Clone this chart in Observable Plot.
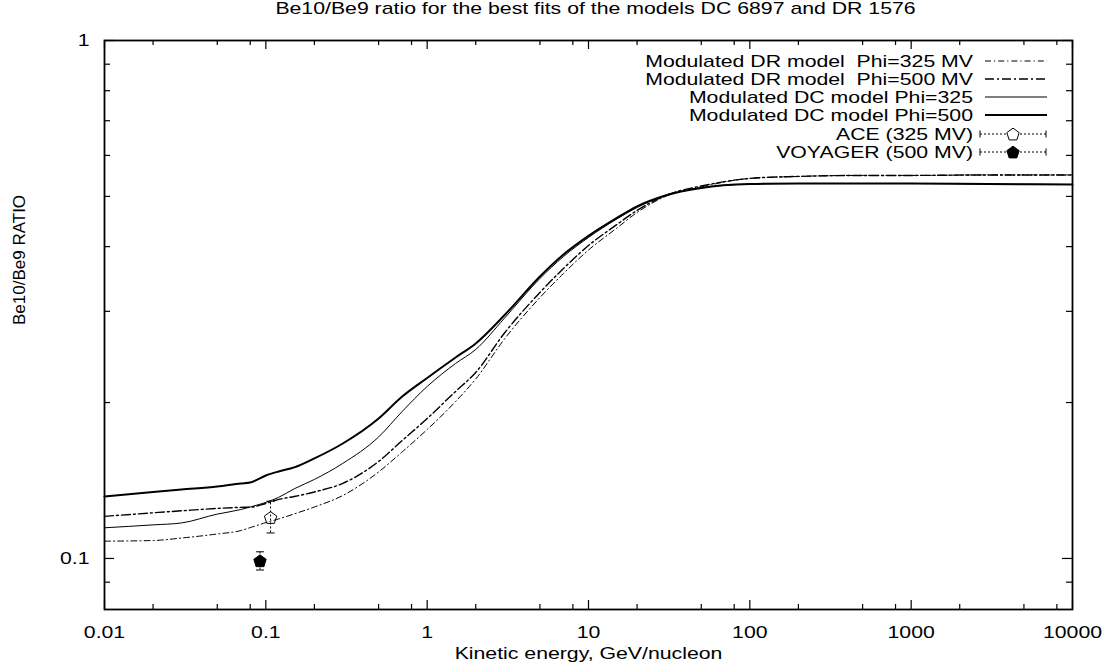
<!DOCTYPE html>
<html><head><meta charset="utf-8">
<script src="https://cdn.jsdelivr.net/npm/d3@7"></script>
<script src="https://cdn.jsdelivr.net/npm/@observablehq/plot@0.6"></script>
<style>body{margin:0;background:#fff} svg{display:block}</style>
</head><body><div id="chart"></div>
<script>
// ---------- data ----------
const energy = [0.01,0.02,0.03,0.05,0.07,0.08,0.1,0.12,0.15,0.2,0.3,0.5,0.7,1,1.5,2,3,5,7,10,15,20,30,50,100,200,500,1000,3000,10000];
const drPhi325 = [0.1080,0.1083,0.1095,0.1115,0.1132,0.1147,0.1173,0.1192,0.1219,0.1257,0.1323,0.1469,0.1606,0.1774,0.2009,0.2221,0.2648,0.3190,0.3550,0.3940,0.4345,0.4656,0.5000,0.5215,0.5417,0.5465,0.5489,0.5489,0.5501,0.5501];
const drPhi500 = [0.1206,0.1225,0.1236,0.1249,0.1255,0.1256,0.1277,0.1300,0.1317,0.1344,0.1396,0.1539,0.1689,0.1863,0.2101,0.2286,0.2719,0.3263,0.3630,0.4019,0.4413,0.4697,0.5022,0.5236,0.5417,0.5465,0.5489,0.5489,0.5501,0.5501];
const dcPhi325 = [0.1146,0.1161,0.1171,0.1218,0.1243,0.1257,0.1283,0.1312,0.1363,0.1421,0.1526,0.1716,0.1922,0.2148,0.2379,0.2532,0.2905,0.3472,0.3828,0.4166,0.4524,0.4760,0.5022,0.5193,0.5281,0.5296,0.5296,0.5296,0.5284,0.5272];
const dcPhi500 = [0.1317,0.1344,0.1359,0.1377,0.1396,0.1402,0.1446,0.1472,0.1499,0.1560,0.1667,0.1863,0.2054,0.2231,0.2443,0.2601,0.2944,0.3503,0.3862,0.4195,0.4544,0.4784,0.5022,0.5193,0.5281,0.5296,0.5296,0.5296,0.5284,0.5272];

const seriesNames = ["Modulated DR model  Phi=325 MV","Modulated DR model  Phi=500 MV","Modulated DC model Phi=325","Modulated DC model Phi=500"];
const pointNames = ["ACE (325 MV)","VOYAGER (500 MV)"];
const pointEnergy = [0.107, 0.092];
const pointRatio  = [0.120, 0.099];
const pointLow    = [0.112, 0.095];
const pointHigh   = [0.129, 0.103];

const xMajor = [0.01,0.1,1,10,100,1000,10000];
const xTickLabels = ["0.01","0.1","1","10","100","1000","10000"];
const xMinorMultipliers = [2,5,8];
const yMajor = [0.1,1];
const yTickLabels = ["0.1","1"];
const yMinor = [0.09,0.2,0.3,0.4,0.5,0.6,0.7,0.8,0.9];

const titleText = "Be10/Be9 ratio for the best fits of the models DC 6897 and DR 1576";
const xTitle = "Kinetic energy, GeV/nucleon";
const yTitle = "Be10/Be9 RATIO";

// ---------- styles ----------
const styles = [
  {dash:"6,3,1.2,3", width:1.0},
  {dash:"9,3,2,3", width:1.4},
  {dash:null, width:1.0},
  {dash:null, width:2.0}
];
const seriesValues = [drPhi325, drPhi500, dcPhi325, dcPhi500];
const rows = seriesValues.map((vals,s) => energy.map((e,i)=>({s, e, r: vals[i]})));
const points = pointNames.map((n,i)=>({n, e:pointEnergy[i], r:pointRatio[i], lo:pointLow[i], hi:pointHigh[i], filled: i===1}));
const xMinor = xMajor.slice(0,-1).flatMap(d => xMinorMultipliers.map(m => d*m));

const W=1106, H=671, mL=104, mR=34, mT=40, mB=62;
const innerW = W-mL-mR, innerH = H-mT-mB;

function pentagonPath(ctx, R){
  for(let k=0;k<5;k++){
    const a = -Math.PI/2 + k*2*Math.PI/5;
    const px = R*Math.cos(a), py = R*Math.sin(a)+R*0.1;
    if(k===0) ctx.moveTo(px,py); else ctx.lineTo(px,py);
  }
  ctx.closePath();
}
const pentagon = {draw(ctx,size){ pentagonPath(ctx, Math.sqrt(size/Math.PI)); }};
const hcap = {draw(ctx,size){ const r=Math.sqrt(size/Math.PI); ctx.moveTo(-r,0); ctx.lineTo(r,0); }};

const lineMarks = rows.map((data,s)=>Plot.line(data,{x:"e", y:"r", curve:"monotone-x", stroke:"black", strokeWidth:styles[s].width, strokeDasharray:styles[s].dash}));

const svg = Plot.plot({
  width: W, height: H,
  marginLeft: mL, marginRight: mR, marginTop: mT, marginBottom: mB,
  x: {type:"log", domain:[0.01,10000], axis:null},
  y: {type:"log", domain:[0.0797,1], axis:null},
  style: {fontFamily:"'Liberation Sans', Arial, Helvetica, sans-serif", fontSize:"17px", background:"white", color:"black", overflow:"visible"},
  marks: [
    ...lineMarks,
    Plot.ruleX(points,{x:"e", y1:"lo", y2:"hi", stroke:"black", strokeWidth:1, strokeDasharray:"2,2"}),
    Plot.dot(points,{x:"e", y:"lo", symbol:hcap, r:4, stroke:"black", strokeWidth:1}),
    Plot.dot(points,{x:"e", y:"hi", symbol:hcap, r:4, stroke:"black", strokeWidth:1}),
    Plot.dot(points,{x:"e", y:"r", symbol:pentagon, r:6.5, stroke:"black", strokeWidth:1, fill:d=>d.filled?"black":"none"}),
    // ticks, inward, on all four sides
    Plot.ruleX(xMajor,{x:d=>d, insetTop:innerH-9, stroke:"black", strokeWidth:1.2}),
    Plot.ruleX(xMajor,{x:d=>d, insetBottom:innerH-9, stroke:"black", strokeWidth:1.2}),
    Plot.ruleX(xMinor,{x:d=>d, insetTop:innerH-5, stroke:"black", strokeWidth:1.2}),
    Plot.ruleX(xMinor,{x:d=>d, insetBottom:innerH-5, stroke:"black", strokeWidth:1.2}),
    Plot.ruleY(yMajor,{y:d=>d, insetRight:innerW-10, stroke:"black", strokeWidth:1.2}),
    Plot.ruleY(yMajor,{y:d=>d, insetLeft:innerW-10, stroke:"black", strokeWidth:1.2}),
    Plot.ruleY(yMinor,{y:d=>d, insetRight:innerW-6, stroke:"black", strokeWidth:1.2}),
    Plot.ruleY(yMinor,{y:d=>d, insetLeft:innerW-6, stroke:"black", strokeWidth:1.2}),
    Plot.frame({stroke:"black", strokeWidth:1.8}),
    Plot.axisX({ticks:xMajor, tickSize:0, tickPadding:16, label:null, tickFormat:d=>xTickLabels[xMajor.indexOf(d)]}),
    Plot.axisY({ticks:yMajor, tickSize:0, tickPadding:15, label:null, tickFormat:d=>yTickLabels[yMajor.indexOf(d)]}),
    Plot.text([titleText],{text:d=>d, frameAnchor:"top", lineAnchor:"middle", dy:-32, dx:7}),
    Plot.text([xTitle],{text:d=>d, frameAnchor:"bottom", lineAnchor:"middle", dy:44}),
    Plot.text([yTitle],{text:d=>d, frameAnchor:"left", lineAnchor:"middle", dx:-85, rotate:-90})
  ]
});

document.getElementById("chart").append(svg);

// legend
const lg = d3.select(svg).append("g").attr("font-size",17).attr("fill","black");
const legendRows = [...seriesNames, ...pointNames];
const rowY = [61,79,97,115,134,152];
legendRows.forEach((name,i)=>{
  const y = rowY[i];
  lg.append("text").attr("x",973).attr("y",y).attr("dy","0.35em").attr("text-anchor","end").text(name);
  if(i<4){
    const st = styles[i];
    lg.append("line").attr("x1",985).attr("x2",1047).attr("y1",y).attr("y2",y)
      .attr("stroke","black").attr("stroke-width",st.width).attr("stroke-dasharray",st.dash);
  } else {
    lg.append("line").attr("x1",980).attr("x2",1046).attr("y1",y).attr("y2",y)
      .attr("stroke","black").attr("stroke-width",1).attr("stroke-dasharray","2,2");
    [980,1046].forEach(x=>lg.append("line").attr("x1",x).attr("x2",x).attr("y1",y-3.5).attr("y2",y+3.5).attr("stroke","black"));
    const p = d3.path(); pentagonPath(p, 6.5);
    lg.append("path").attr("d",p.toString()).attr("transform",`translate(1013,${y})`)
      .attr("fill", i===5 ? "black":"white").attr("stroke","black");
  }
});

// horizontal stretch of the (horizontal) text to mimic the reference font
const stretch = 1.25;
svg.querySelectorAll("text").forEach(t=>{
  if(t.textContent === yTitle) return;
  if(t.querySelector("tspan")) { t.querySelectorAll("tspan").forEach(ts=>{ const L=ts.getComputedTextLength(); ts.setAttribute("textLength", L*stretch); ts.setAttribute("lengthAdjust","spacingAndGlyphs"); }); return; }
  const L = t.getComputedTextLength();
  t.setAttribute("textLength", L*stretch);
  t.setAttribute("lengthAdjust","spacingAndGlyphs");
});
</script>
</body></html>
